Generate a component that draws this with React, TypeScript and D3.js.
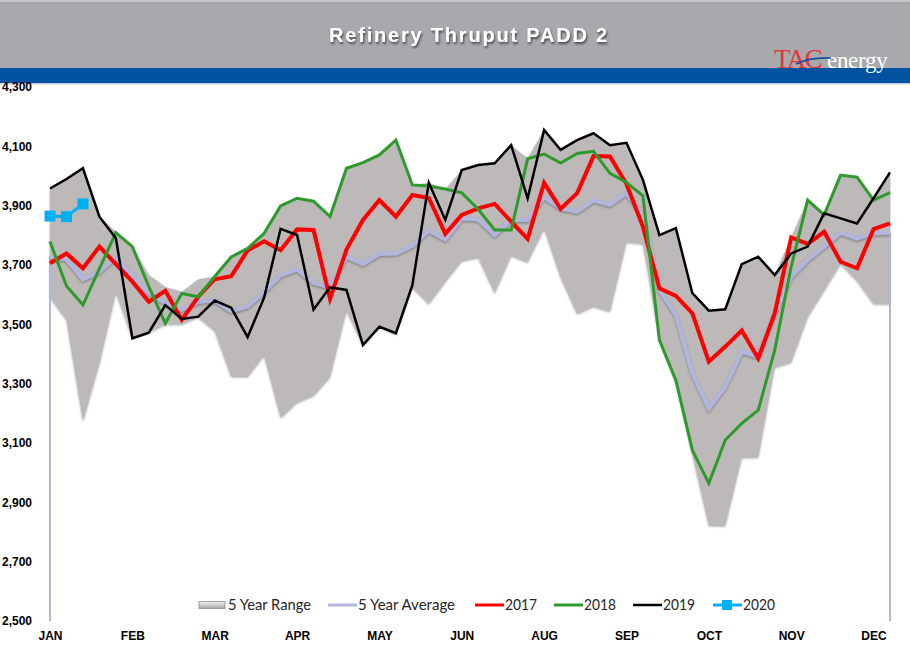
import * as d3 from 'd3';
import React, { useEffect, useRef } from 'react';

// week buckets (week ending dates), labels shown every 5th week
const weeks = [
  'JAN', 'JAN', 'JAN', 'JAN',
  'FEB', 'FEB', 'FEB', 'FEB',
  'MAR', 'MAR', 'MAR', 'MAR', 'MAR',
  'APR', 'APR', 'APR', 'APR',
  'MAY', 'MAY', 'MAY', 'MAY', 'MAY',
  'JUN', 'JUN', 'JUN', 'JUN',
  'JUL', 'JUL', 'JUL', 'JUL',
  'AUG', 'AUG', 'AUG', 'AUG', 'AUG',
  'SEP', 'SEP', 'SEP', 'SEP',
  'OCT', 'OCT', 'OCT', 'OCT',
  'NOV', 'NOV', 'NOV', 'NOV', 'NOV',
  'DEC', 'DEC', 'DEC', 'DEC',
];
const labelStep = 5;
const yTicks = [2500, 2700, 2900, 3100, 3300, 3500, 3700, 3900, 4100, 4300];

const rangeHigh = [
  3960, 3990, 4026, 3863, 3812, 3762, 3666, 3627, 3610, 3652,
  3661, 3728, 3756, 3807, 3899, 3925, 3916, 3863, 4026, 4045,
  4071, 4121, 3970, 3977, 3955, 4020, 4037, 4043, 4104, 4060,
  4155, 4088, 4121, 4144, 4104, 4113, 3987, 3801, 3824, 3605,
  3546, 3551, 3703, 3728, 3666, 3793, 3919, 3874, 4003, 3996,
  3925, 4012,
];
const rangeLow = [
  3593, 3517, 3175, 3370, 3610, 3455, 3475, 3503, 3503, 3526,
  3480, 3326, 3326, 3397, 3187, 3239, 3262, 3324, 3548, 3430,
  3492, 3470, 3627, 3571, 3645, 3716, 3727, 3607, 3734, 3711,
  3825, 3660, 3537, 3563, 3545, 3779, 3773, 3447, 3305, 3062,
  2824, 2824, 3054, 3054, 3357, 3374, 3526, 3616, 3706, 3649,
  3571, 3571,
];
const avg5 = [
  3728, 3719, 3652, 3677, 3727, 3663, 3607, 3572, 3550, 3576,
  3580, 3545, 3560, 3610, 3665, 3685, 3640, 3625, 3728, 3703,
  3738, 3739, 3765, 3816, 3786, 3857, 3854, 3801, 3852, 3852,
  3929, 3891, 3880, 3918, 3904, 3942, 3870, 3616, 3532, 3335,
  3217, 3290, 3408, 3391, 3537, 3661, 3717, 3762, 3809, 3790,
  3807, 3809,
];
const y2017 = [
  3706, 3739, 3689, 3762, 3703, 3644, 3576, 3613, 3515, 3593,
  3652, 3662, 3749, 3780, 3750, 3820, 3818, 3586, 3752, 3852,
  3919, 3863, 3936, 3926, 3805, 3869, 3891, 3906, 3846, 3788,
  3977, 3889, 3942, 4067, 4066, 3973, 3829, 3621, 3596, 3537,
  3374, 3425, 3479, 3385, 3537, 3793, 3771, 3812, 3711, 3689,
  3821, 3840,
];
const y2018 = [
  3779, 3629, 3565, 3688, 3809, 3762, 3627, 3503, 3604, 3593,
  3661, 3727, 3756, 3807, 3899, 3925, 3915, 3863, 4026, 4045,
  4071, 4121, 3970, 3966, 3956, 3943, 3888, 3818, 3818, 4058,
  4074, 4044, 4076, 4083, 4009, 3978, 3933, 3447, 3312, 3076,
  2964, 3110, 3166, 3211, 3413, 3694, 3919, 3869, 4003, 3996,
  3919, 3944,
];
const y2019 = [
  3958, 3990, 4026, 3863, 3790, 3453, 3472, 3565, 3518, 3526,
  3580, 3556, 3457, 3590, 3822, 3801, 3550, 3625, 3616, 3430,
  3492, 3470, 3632, 3977, 3852, 4020, 4037, 4043, 4104, 3925,
  4155, 4088, 4121, 4144, 4104, 4112, 3987, 3801, 3824, 3605,
  3546, 3551, 3703, 3728, 3666, 3739, 3762, 3874, 3857, 3840,
  3925, 4012,
];
const y2020 = [3865, 3863, 3906];

const W = 910;
const H = 659;
const FONT = "'Liberation Sans', Arial, sans-serif";
const LEGEND_FONT = "Lato, 'Liberation Sans', sans-serif";

const Chart = () => {
  const ref = useRef<SVGSVGElement>(null);

  useEffect(() => {
    const svg = d3.select(ref.current);
    svg.selectAll('*').remove();

    const x = d3
      .scalePoint<number>()
      .domain(weeks.map((_, i) => i))
      .range([50, 890]);
    const y = d3.scaleLinear().domain([2500, 4300]).range([621, 87]);

    const defs = svg.append('defs');
    const sh = defs
      .append('filter')
      .attr('id', 'bevel')
      .attr('x', '-5%')
      .attr('y', '-5%')
      .attr('width', '110%')
      .attr('height', '110%');
    sh.append('feDropShadow')
      .attr('dx', 0)
      .attr('dy', 1.5)
      .attr('stdDeviation', 1.2)
      .attr('flood-color', '#555')
      .attr('flood-opacity', 0.55);
    const ts = defs.append('filter').attr('id', 'titleShadow');
    ts.append('feDropShadow')
      .attr('dx', 1)
      .attr('dy', 2)
      .attr('stdDeviation', 0.8)
      .attr('flood-color', '#333')
      .attr('flood-opacity', 0.8);
    const sw = defs
      .append('linearGradient')
      .attr('id', 'swatch')
      .attr('x1', 0)
      .attr('x2', 0)
      .attr('y1', 0)
      .attr('y2', 1);
    sw.append('stop').attr('offset', '0%').attr('stop-color', '#f2f2f2');
    sw.append('stop').attr('offset', '100%').attr('stop-color', '#a8a5a5');

    // header
    svg.append('rect').attr('x', 0).attr('y', 0).attr('width', W).attr('height', 68).attr('fill', '#a7a9ac');
    svg.append('rect').attr('x', 0).attr('y', 0).attr('width', W).attr('height', 2).attr('fill', '#c4c6c8');
    svg.append('rect').attr('x', 0).attr('y', 68).attr('width', W).attr('height', 15).attr('fill', '#0153a1');
    svg.append('rect').attr('x', 0).attr('y', 83).attr('width', W).attr('height', 1.5).attr('fill', '#c9ccd6');

    svg
      .append('text')
      .attr('x', 469)
      .attr('y', 42)
      .attr('text-anchor', 'middle')
      .attr('fill', '#fff')
      .attr('font-family', FONT)
      .attr('font-weight', 'bold')
      .attr('font-size', 20)
      .attr('letter-spacing', 1.8)
      .attr('filter', 'url(#titleShadow)')
      .text('Refinery Thruput PADD 2');

    // logo
    const logo = svg.append('g').attr('font-family', "'Liberation Serif', 'DejaVu Serif', serif");
    logo
      .append('text')
      .attr('x', 774)
      .attr('y', 68)
      .attr('fill', '#e2363c')
      .attr('font-size', 27)
      .attr('letter-spacing', -1.5)
      .text('TAC');
    logo
      .append('text')
      .attr('x', 827)
      .attr('y', 68)
      .attr('fill', '#fff')
      .attr('font-size', 23)
      .attr('letter-spacing', -0.3)
      .text('energy');
    logo
      .append('path')
      .attr('d', 'M796,64 Q810,57 831,58')
      .attr('fill', 'none')
      .attr('stroke', '#1d4f9c')
      .attr('stroke-width', 1.6);

    const idx = weeks.map((_, i) => i);

    // 5 year range
    const area = d3
      .area<number>()
      .x((i) => x(i)!)
      .y0((i) => y(rangeLow[i]))
      .y1((i) => y(rangeHigh[i]));
    svg
      .append('path')
      .attr('d', area(idx)!)
      .attr('fill', '#bdb9b9')
      .attr('filter', 'url(#bevel)');

    // axis line
    svg
      .append('line')
      .attr('x1', 47)
      .attr('x2', 893)
      .attr('y1', 621)
      .attr('y2', 621)
      .attr('stroke', '#d4d4d4')
      .attr('stroke-width', 2)
      .attr('filter', 'url(#bevel)');

    // side drops of the average series
    [0, idx.length - 1].forEach((i) => {
      svg
        .append('line')
        .attr('x1', x(i)!)
        .attr('x2', x(i)!)
        .attr('y1', y(avg5[i]))
        .attr('y2', y(2500))
        .attr('stroke', '#b3b6dc')
        .attr('stroke-width', 2);
    });

    const line = (vals: number[]) =>
      d3
        .line<number>()
        .x((_, i) => x(i)!)
        .y((v) => y(v))(vals)!;

    const series = [
      { vals: avg5, color: '#b2b5dc', width: 4, shadow: true },
      { vals: y2017, color: '#ff0000', width: 4, shadow: false },
      { vals: y2018, color: '#2e9a2e', width: 3, shadow: false },
      { vals: y2019, color: '#000000', width: 2.5, shadow: false },
      { vals: y2020, color: '#00b0f0', width: 3, shadow: false },
    ];
    series.forEach((s) => {
      svg
        .append('path')
        .attr('d', line(s.vals))
        .attr('fill', 'none')
        .attr('stroke', s.color)
        .attr('stroke-width', s.width)
        .attr('stroke-linejoin', 'miter')
        .attr('filter', s.shadow ? 'url(#bevel)' : null);
    });

    svg
      .selectAll('rect.m2020')
      .data(y2020)
      .join('rect')
      .attr('class', 'm2020')
      .attr('x', (_, i) => x(i)! - 5.5)
      .attr('y', (v) => y(v) - 5.5)
      .attr('width', 11)
      .attr('height', 11)
      .attr('fill', '#00b0f0');

    // y axis
    const yAxis = svg
      .append('g')
      .attr('transform', 'translate(32,0)')
      .call(
        d3
          .axisLeft(y)
          .tickValues(yTicks)
          .tickSize(0)
          .tickPadding(0)
          .tickFormat(d3.format(',') as any)
      );
    yAxis.select('.domain').remove();
    yAxis
      .selectAll('text')
      .attr('font-family', FONT)
      .attr('font-weight', 'bold')
      .attr('font-size', 12)
      .attr('fill', '#000');

    // x axis
    const xAxis = svg
      .append('g')
      .attr('transform', 'translate(0,631)')
      .call(
        d3
          .axisBottom(x)
          .tickValues(idx.filter((i) => i % labelStep === 0))
          .tickSize(0)
          .tickPadding(0)
          .tickFormat((i: any) => weeks[i])
      );
    xAxis.select('.domain').remove();
    xAxis
      .selectAll('text')
      .attr('font-family', FONT)
      .attr('font-weight', 'bold')
      .attr('font-size', 12)
      .attr('fill', '#000');

    // legend
    const lg = svg
      .append('g')
      .attr('font-family', LEGEND_FONT)
      .attr('font-size', 15)
      .attr('fill', '#262626');
    const ly = 605;
    lg.append('rect')
      .attr('x', 199)
      .attr('y', ly - 3.5)
      .attr('width', 26)
      .attr('height', 7)
      .attr('fill', 'url(#swatch)')
      .attr('stroke', '#8f8c8c')
      .attr('stroke-width', 0.8);
    lg.append('text')
      .attr('x', 228)
      .attr('y', ly + 5)
      .attr('textLength', 83)
      .attr('lengthAdjust', 'spacingAndGlyphs')
      .text('5 Year Range');
    const items = [
      { x: 328, len: 97, label: '5 Year Average', color: '#b2b5dc', width: 3, marker: false },
      { x: 475, len: 32, label: '2017', color: '#ff0000', width: 3, marker: false },
      { x: 554, len: 32, label: '2018', color: '#2e9a2e', width: 3, marker: false },
      { x: 633, len: 32, label: '2019', color: '#000000', width: 2.5, marker: false },
      { x: 713, len: 32, label: '2020', color: '#00b0f0', width: 3, marker: true },
    ];
    items.forEach((it) => {
      lg.append('line')
        .attr('x1', it.x)
        .attr('x2', it.x + 29)
        .attr('y1', ly)
        .attr('y2', ly)
        .attr('stroke', it.color)
        .attr('stroke-width', it.width);
      if (it.marker) {
        lg.append('rect')
          .attr('x', it.x + 9)
          .attr('y', ly - 5)
          .attr('width', 10)
          .attr('height', 10)
          .attr('fill', it.color);
      }
      lg.append('text')
        .attr('x', it.x + 30)
        .attr('y', ly + 5)
        .attr('textLength', it.len)
        .attr('lengthAdjust', 'spacingAndGlyphs')
        .text(it.label);
    });
  }, []);

  return <svg ref={ref} width={W} height={H} style={{ display: 'block', background: '#fff' }} />;
};

export default function App() {
  return (
    <div style={{ position: 'fixed', left: 0, top: 0, width: W, height: H, background: '#fff' }}>
      <Chart />
    </div>
  );
}
